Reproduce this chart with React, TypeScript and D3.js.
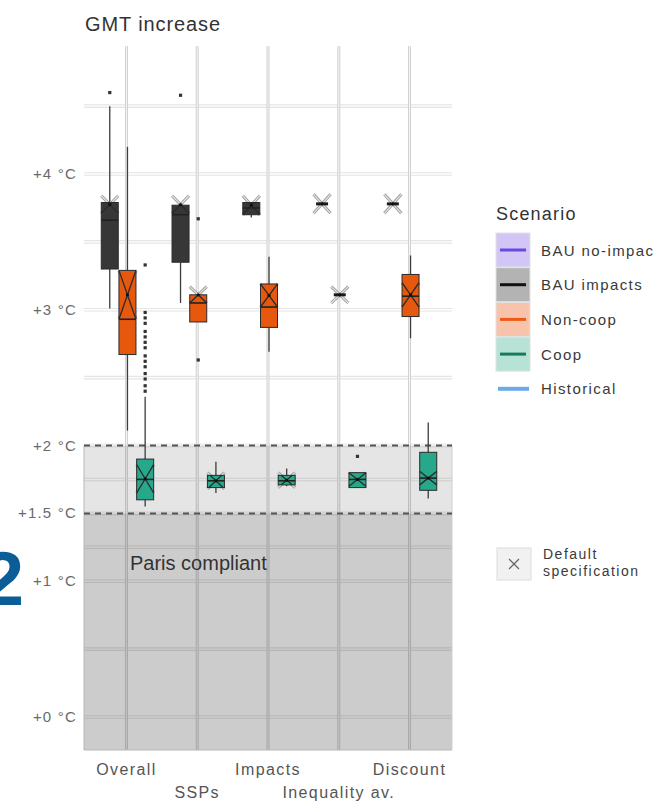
import React from "react";
import * as d3 from "d3";

const categories = ["Overall", "SSPs", "Impacts", "Inequality av.", "Discount"];
const rowOne = ["Overall", "Impacts", "Discount"];
const scenarios = ["BAU impacts", "Non-coop", "Coop"];
const legendScenarios = ["BAU no-impact", "BAU impacts", "Non-coop", "Coop", "Historical"];
const yTicks = [0, 1, 1.5, 2, 3, 4];
const yTickLabels = ["+0 °C", "+1 °C", "+1.5 °C", "+2 °C", "+3 °C", "+4 °C"];
const yMinor = [0.5, 1.25, 1.75, 2.5, 3.5, 4.5];
const parisUpper = 2;
const parisLower = 1.5;

type Box = { cat: string; lo: number; q1: number; med: number; q3: number; hi: number; out: number[]; xHi: number; xLo: number };

const bauImpacts: Box[] = [
  { cat: "Overall", lo: 3.01, q1: 3.3, med: 3.66, q3: 3.79, hi: 4.5, out: [4.6], xHi: 3.84, xLo: 3.71 },
  { cat: "SSPs", lo: 3.05, q1: 3.35, med: 3.7, q3: 3.77, hi: 3.77, out: [4.58], xHi: 3.84, xLo: 3.71 },
  { cat: "Impacts", lo: 3.68, q1: 3.7, med: 3.75, q3: 3.79, hi: 3.79, out: [], xHi: 3.84, xLo: 3.7 },
  { cat: "Inequality av.", lo: 3.78, q1: 3.78, med: 3.78, q3: 3.78, hi: 3.78, out: [], xHi: 3.85, xLo: 3.71 },
  { cat: "Discount", lo: 3.78, q1: 3.78, med: 3.78, q3: 3.78, hi: 3.78, out: [], xHi: 3.85, xLo: 3.71 },
];

const nonCoop: Box[] = [
  { cat: "Overall", lo: 2.11, q1: 2.67, med: 2.93, q3: 3.29, hi: 4.2, out: [], xHi: 3.29, xLo: 2.93 },
  { cat: "SSPs", lo: 2.91, q1: 2.91, med: 3.05, q3: 3.11, hi: 3.11, out: [3.67, 2.63], xHi: 3.17, xLo: 3.05 },
  { cat: "Impacts", lo: 2.69, q1: 2.87, med: 3.02, q3: 3.19, hi: 3.39, out: [], xHi: 3.19, xLo: 3.02 },
  { cat: "Inequality av.", lo: 3.11, q1: 3.11, med: 3.11, q3: 3.11, hi: 3.11, out: [], xHi: 3.17, xLo: 3.05 },
  { cat: "Discount", lo: 2.79, q1: 2.95, med: 3.1, q3: 3.26, hi: 3.4, out: [], xHi: 3.2, xLo: 3.02 },
];

const coop: Box[] = [
  { cat: "Overall", lo: 1.55, q1: 1.6, med: 1.75, q3: 1.9, hi: 2.36, out: [3.33, 2.98, 2.94, 2.9, 2.84, 2.8, 2.76, 2.72, 2.66, 2.62, 2.58, 2.53, 2.49, 2.44, 2.4], xHi: 1.86, xLo: 1.65 },
  { cat: "SSPs", lo: 1.65, q1: 1.69, med: 1.74, q3: 1.78, hi: 1.88, out: [], xHi: 1.8, xLo: 1.68 },
  { cat: "Impacts", lo: 1.7, q1: 1.71, med: 1.74, q3: 1.78, hi: 1.83, out: [], xHi: 1.8, xLo: 1.69 },
  { cat: "Inequality av.", lo: 1.69, q1: 1.69, med: 1.75, q3: 1.8, hi: 1.8, out: [1.92], xHi: 1.8, xLo: 1.7 },
  { cat: "Discount", lo: 1.61, q1: 1.67, med: 1.76, q3: 1.95, hi: 2.17, out: [], xHi: 1.81, xLo: 1.71 },
];

const seriesData: Record<string, Box[]> = { "BAU impacts": bauImpacts, "Non-coop": nonCoop, Coop: coop };
const fills: Record<string, string> = { "BAU impacts": "#373737", "Non-coop": "#E6580E", Coop: "#27A88A" };
const keyFills: Record<string, string> = { "BAU no-impact": "#D2C6F6", "BAU impacts": "#B3B3B3", "Non-coop": "#F8C3AB", Coop: "#B6E3D6", Historical: "none" };
const keyLines: Record<string, string> = { "BAU no-impact": "#6C46E0", "BAU impacts": "#111111", "Non-coop": "#EE5A16", Coop: "#17795E", Historical: "#6AAAE8" };

const FONT = "'Liberation Sans', Arial, sans-serif";

export default function App() {
  const W = 654, H = 807;
  const left = 84, right = 452, top = 46, bottom = 750;
  const y = d3.scaleLinear().domain([0, 4]).range([717, 174]);
  const x = d3.scalePoint<string>().domain(categories).range([left, right]).padding(0.6);
  const step = x.step();
  const dodge = d3.scaleBand<string>().domain(scenarios).range([-0.375 * step, 0.375 * step]);
  const half = 8.5;

  const boxes: JSX.Element[] = [];
  scenarios.forEach((s) => {
    seriesData[s].forEach((b, i) => {
      const cx = (x(b.cat) as number) + 1 + (dodge(s) as number) + dodge.bandwidth() / 2;
      const key = `${s}-${i}`;
      const degenerate = b.q3 - b.q1 < 0.005;
      const x1 = cx - half, x2 = cx + half;
      const clipId = `clip-${s.replace(/\W/g, "")}-${i}`;
      boxes.push(
        <g key={key}>
          {b.hi > b.q3 && <line x1={cx} x2={cx} y1={y(b.hi)} y2={y(b.q3)} stroke="#3c3c3c" strokeWidth={1.3} />}
          {b.lo < b.q1 && <line x1={cx} x2={cx} y1={y(b.q1)} y2={y(b.lo)} stroke="#3c3c3c" strokeWidth={1.3} />}
          <g>
            <line x1={x1} x2={x2} y1={y(b.xHi)} y2={y(b.xLo)} stroke="#9a9a9a" strokeWidth={3} />
            <line x1={x2} x2={x1} y1={y(b.xHi)} y2={y(b.xLo)} stroke="#9a9a9a" strokeWidth={3} />
            <line x1={x1} x2={x2} y1={y(b.xHi)} y2={y(b.xLo)} stroke="#e6e6e6" strokeWidth={1.2} />
            <line x1={x2} x2={x1} y1={y(b.xHi)} y2={y(b.xLo)} stroke="#e6e6e6" strokeWidth={1.2} />
          </g>
          {!degenerate && (
            <>
              <clipPath id={clipId}>
                <rect x={x1} y={y(b.q3)} width={2 * half} height={y(b.q1) - y(b.q3)} />
              </clipPath>
              <rect x={x1} y={y(b.q3)} width={2 * half} height={y(b.q1) - y(b.q3)} fill={fills[s]} stroke="#2a2a2a" strokeWidth={1} />
              <g clipPath={`url(#${clipId})`}>
                <line x1={x1} x2={x2} y1={y(b.xHi)} y2={y(b.xLo)} stroke="#2a2a2a" strokeWidth={1.3} />
                <line x1={x2} x2={x1} y1={y(b.xHi)} y2={y(b.xLo)} stroke="#2a2a2a" strokeWidth={1.3} />
              </g>
              <line x1={x1} x2={x2} y1={y(b.med)} y2={y(b.med)} stroke="#222" strokeWidth={1.6} />
            </>
          )}
          {degenerate && (
            <line x1={cx - 6} x2={cx + 6} y1={y(b.med)} y2={y(b.med)} stroke="#1a1a1a" strokeWidth={3} />
          )}
          <circle cx={cx} cy={y((b.xHi + b.xLo) / 2)} r={1.6} fill="#111" />
          {b.out.map((o, j) => (
            <rect key={j} x={cx - 1.6} y={y(o) - 1.6} width={3.2} height={3.2} fill="#333" />
          ))}
        </g>
      );
    });
  });

  const allH = [...yTicks, ...yMinor];
  const legendY0 = 250;
  const legendStep = 34.7;

  return (
    <svg width={W} height={H} style={{ position: "absolute", left: 0, top: 0, background: "#fff" }} fontFamily={FONT}>
      <rect x={0} y={0} width={W} height={H} fill="#fff" />
      <text x={85} y={31} fontSize={20} fill="#333" letterSpacing={0.9}>GMT increase</text>

      {allH.map((v) => (
        <g key={`h${v}`}>
          <line x1={left} x2={right} y1={y(v)} y2={y(v)} stroke="#e4e4e4" strokeWidth={3.6} />
          <line x1={left} x2={right} y1={y(v)} y2={y(v)} stroke="#ffffff" strokeWidth={1.4} />
        </g>
      ))}
      {categories.map((c) => (
        <g key={`v${c}`}>
          <line x1={x(c)} x2={x(c)} y1={top} y2={bottom} stroke="#d2d2d2" strokeWidth={3} />
          <line x1={x(c)} x2={x(c)} y1={top} y2={bottom} stroke="#f4f4f4" strokeWidth={1} />
        </g>
      ))}

      <rect x={left} y={y(parisUpper)} width={right - left} height={y(parisLower) - y(parisUpper)} fill="#000" fillOpacity={0.1} />
      <rect x={left} y={y(parisLower)} width={right - left} height={bottom - y(parisLower)} fill="#000" fillOpacity={0.2} />
      <line x1={left} x2={left} y1={y(parisUpper)} y2={bottom} stroke="#b8b8b8" strokeWidth={1} />
      <line x1={left} x2={right} y1={bottom} y2={bottom} stroke="#b8b8b8" strokeWidth={1} />
      <line x1={right} x2={right} y1={y(parisUpper)} y2={bottom} stroke="#d0d0d0" strokeWidth={1} />
      {[parisUpper, parisLower].map((v) => (
        <line key={`d${v}`} x1={left} x2={right} y1={y(v)} y2={y(v)} stroke="#555" strokeWidth={2} strokeDasharray="6 5" />
      ))}
      <text x={130} y={570} fontSize={20} fill="#333">Paris compliant</text>

      {boxes}

      {yTicks.map((v, i) => (
        <text key={`yt${v}`} x={77} y={y(v) + 5} fontSize={15} fill="#6a6a6a" textAnchor="end" letterSpacing={1.2}>
          {yTickLabels[i]}
        </text>
      ))}

      {categories.map((c) => (
        <text key={`xl${c}`} x={x(c)} y={rowOne.includes(c) ? 775 : 798} fontSize={16} fill="#555" textAnchor="middle" letterSpacing={1.4}>
          {c}
        </text>
      ))}

      <text x={496} y={220} fontSize={18} fill="#333" letterSpacing={1.2}>Scenario</text>
      {legendScenarios.map((s, i) => {
        const cy = legendY0 + i * legendStep;
        return (
          <g key={`lg${s}`}>
            {keyFills[s] !== "none" && (
              <rect x={496} y={cy - 17} width={34} height={34} fill={keyFills[s]} stroke="#e2e2e2" strokeWidth={1} />
            )}
            <line x1={s === "Historical" ? 498 : 500} x2={s === "Historical" ? 529 : 526} y1={cy} y2={cy} stroke={keyLines[s]} strokeWidth={s === "Historical" ? 4 : 3} />
            <text x={541} y={cy + 5.5} fontSize={15} fill="#3a3a3a" letterSpacing={1.4}>{s}</text>
          </g>
        );
      })}
      <rect x={497} y={548} width={34} height={32} fill="#f1f1f1" stroke="#dcdcdc" strokeWidth={1} />
      <line x1={509} x2={519} y1={559} y2={569} stroke="#666" strokeWidth={1.3} />
      <line x1={519} x2={509} y1={559} y2={569} stroke="#666" strokeWidth={1.3} />
      <text x={543} y={559} fontSize={14} fill="#3a3a3a" letterSpacing={1.5}>Default</text>
      <text x={543} y={576} fontSize={14} fill="#3a3a3a" letterSpacing={1.5}>specification</text>

      <text x={24} y={605} fontSize={76} fontWeight="bold" fill="#0B5D98" textAnchor="end">2</text>
    </svg>
  );
}
